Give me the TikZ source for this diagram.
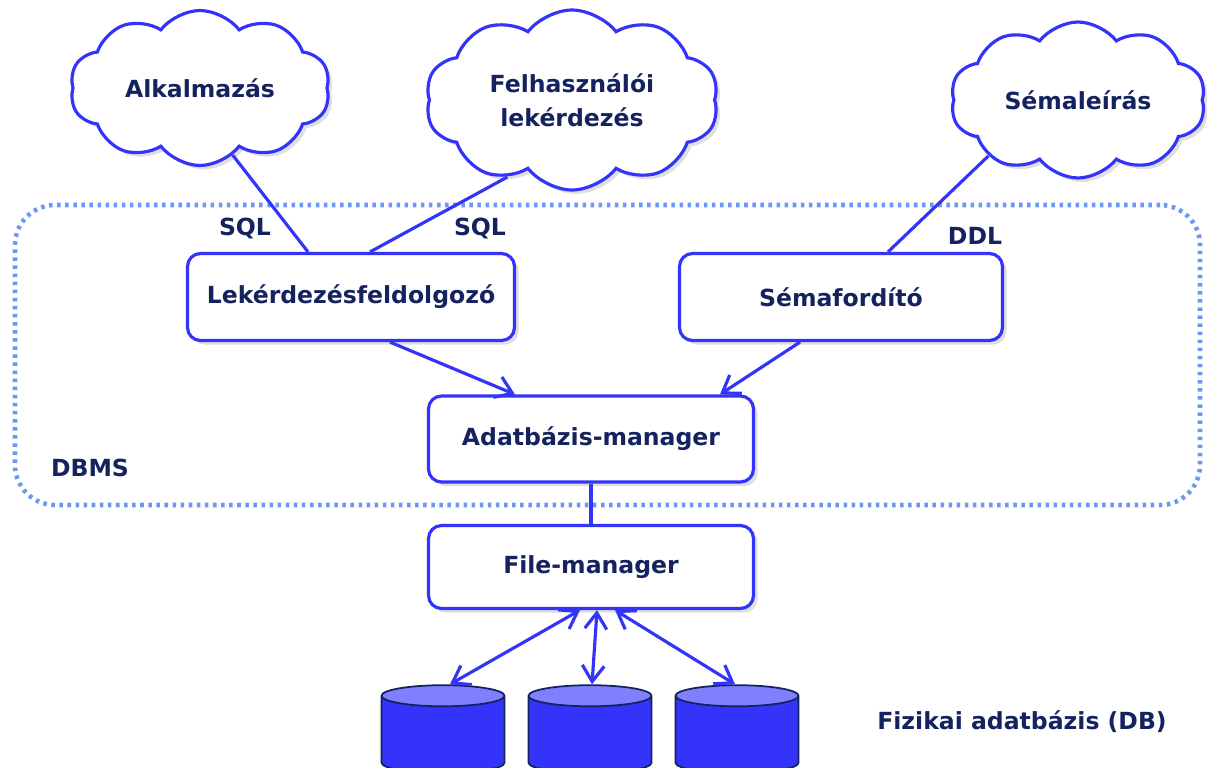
\documentclass[tikz,border=0pt]{standalone}
\usepackage{fontspec}
\setmainfont{DejaVu Sans}
\usetikzlibrary{shapes.symbols,shapes.geometric,shadows,arrows.meta}

\definecolor{bleu}{RGB}{51,51,250}
\definecolor{marine}{RGB}{20,35,95}
\definecolor{ciel}{RGB}{110,150,245}
\definecolor{bleuclair}{RGB}{128,128,255}

\begin{document}
\begin{tikzpicture}
	\tikzset{texte/.style={text=marine, font=\bfseries\fontsize{6.7}{9.6}\selectfont},
	ombre/.style={drop shadow={opacity=0.25, shadow xshift=0.4mm, shadow yshift=-0.4mm}},
	boite/.style={texte, draw=bleu, line width=0.9pt, rounded corners=1.3mm, fill=white, ombre,
		minimum width=3.25cm, minimum height=0.86cm},
	nuage/.style={texte, cloud, cloud puffs=10, cloud puff arc=105, cloud ignores aspect, draw=bleu,
		line width=0.9pt, fill=white, align=center, ombre},
	disque/.style={cylinder, shape border rotate=90, aspect=0.9, draw=marine, line width=0.5pt,
		cylinder uses custom fill, cylinder body fill=bleu, cylinder end fill=bleuclair,
		minimum width=1.23cm, minimum height=0.88cm},
	cadre/.style={draw=ciel, line width=1.3pt, dash pattern=on 1pt off 1.3pt, rounded corners=4mm,
		minimum width=11.85cm, minimum height=3cm},
	fleche/.style={draw=bleu, line width=0.9pt},
	pointe/.style={-{Straight Barb[length=1.6mm,width=2.2mm]}},
	double/.style={{Straight Barb[length=1.6mm,width=2.2mm]}-{Straight Barb[length=1.6mm,width=2.2mm]}}};

	\useasboundingbox (0,0) rectangle (12.07,7.67);

	\node[cadre] (dbms) at (6.075,4.12) {};
	\node[texte] (dbmsnom) at (0.90,2.99) {DBMS};

	\node[nuage, minimum width=2.6cm, minimum height=1.55cm] (alk) at (2.00,6.79) {Alkalmazás};
	\node[nuage, minimum width=2.93cm, minimum height=1.8cm] (felh) at (5.72,6.67) {Felhasználói\\lekérdezés};
	\node[nuage, minimum width=2.55cm, minimum height=1.56cm] (leir) at (10.78,6.67) {Sémaleírás};

	\node[boite, minimum width=3.27cm, minimum height=0.87cm] (lek) at (3.51,4.70) {Lekérdezésfeldolgozó};
	\node[boite, minimum width=3.23cm, minimum height=0.87cm] (sema) at (8.41,4.70) {Sémafordító};
	\node[boite] (adat) at (5.91,3.28) {Adatbázis-manager};
	\node[boite, minimum height=0.83cm] (file) at (5.91,2.00) {File-manager};

	\foreach \i/\x in {1/4.43, 2/5.90, 3/7.37}{
		\node[disque] (d\i) at (\x,0.29) {};
	}
	\node[texte] (fiz) at (10.22,0.45) {Fizikai adatbázis (DB)};

	\node[texte] (sql1) at (2.45,5.39) {SQL};
	\node[texte] (sql2) at (4.80,5.39) {SQL};
	\node[texte] (ddl) at (9.75,5.31) {DDL};

	\draw[fleche] (alk.-64) -- ([xshift=-4.3mm]lek.north);
	\draw[fleche] (felh.-130) -- ([xshift=1.9mm]lek.north);
	\draw[fleche] (leir.-148) -- ([xshift=4.7mm]sema.north);

	\draw[fleche, pointe] ([xshift=3.9mm]lek.south) -- ([xshift=-7.6mm]adat.north);
	\draw[fleche, pointe] ([xshift=-4.1mm]sema.south) -- ([xshift=12.9mm]adat.north);
	\draw[fleche] (adat.south) -- (file.north);

	\draw[fleche, double] ([xshift=-1.1mm]file.south) -- ([xshift=0.7mm]d1.north);
	\draw[fleche, double] ([xshift=0.6mm]file.south) -- ([xshift=0.2mm]d2.north);
	\draw[fleche, double] ([xshift=2.4mm]file.south) -- ([xshift=-0.2mm]d3.north);
\end{tikzpicture}
\end{document}
